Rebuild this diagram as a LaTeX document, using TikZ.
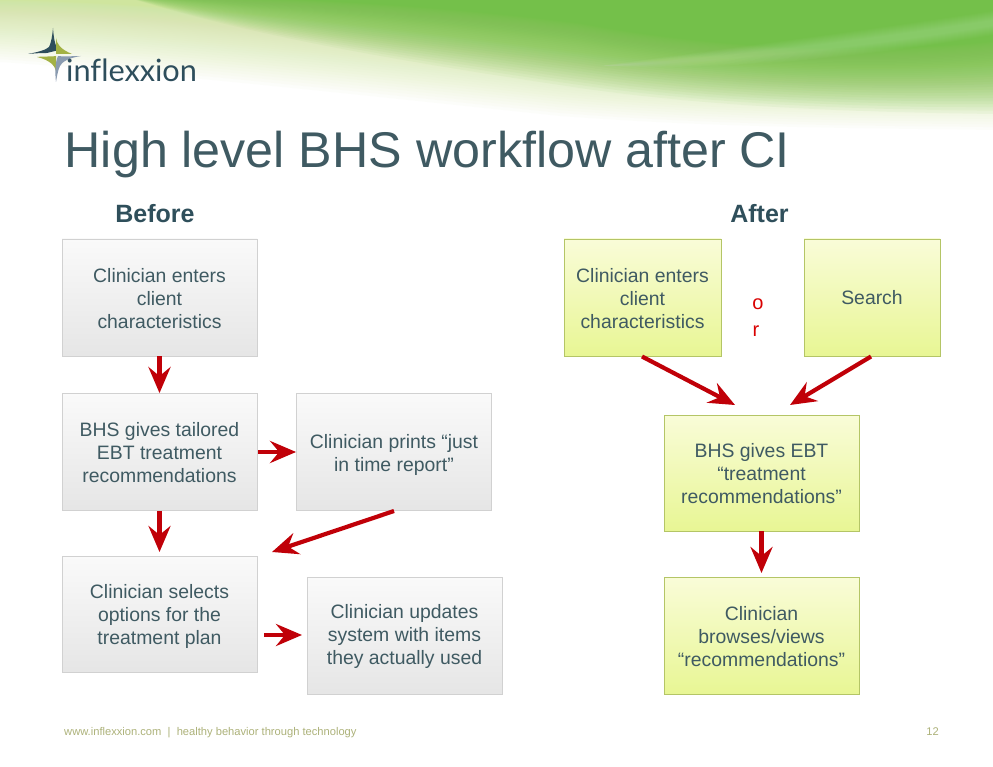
\documentclass[tikz,border=0pt]{standalone}
\usepackage{fontspec}
\setmainfont{Liberation Sans}
\newfontfamily\logofont{Lato}
\usetikzlibrary{arrows.meta}
\definecolor{inktext}{HTML}{3F5A62}
\definecolor{headtext}{HTML}{2F4F5B}
\definecolor{arrowred}{HTML}{C00008}
\definecolor{swgreen}{HTML}{74C04A}
\definecolor{swpale}{HTML}{CFE59A}
\definecolor{footcol}{HTML}{ADB27A}
\definecolor{logodark}{HTML}{2E4E5C}
\definecolor{logoolive}{HTML}{A3B244}
\definecolor{logogrey}{HTML}{8A9BB0}
\definecolor{limetop}{HTML}{F9FCD8}
\definecolor{limebot}{HTML}{E8F694}
\definecolor{limeedge}{HTML}{B4C566}
\newcommand{\boxlines}[3]{\raisebox{-#1}[\height][\depth]{\parbox{#2}{\centering #3}}}
\tikzset{
  flowbox/.style={rectangle,draw,line width=0.8pt,inner sep=0pt,align=center,text=inktext,
    font=\fontsize{19.4}{23}\selectfont},
  greybox/.style={flowbox,draw=black!18,top color=black!2,bottom color=black!10},
  limebox/.style={flowbox,draw=limeedge,top color=limetop,bottom color=limebot},
  flowarrow/.style={draw=arrowred,line width=4.2pt,-{Stealth[length=26pt,width=22pt,inset=9pt]}},
  headlabel/.style={font=\fontsize{25}{28}\selectfont\bfseries,text=headtext,inner sep=0pt},
  orlabel/.style={font=\fontsize{20}{23}\selectfont,text=red!85!black,inner sep=0pt},
  footlabel/.style={font=\fontsize{11.15}{13}\selectfont,text=footcol,inner sep=0pt}
}
\begin{document}
\begin{tikzpicture}[x=1pt,y=-1pt]
\useasboundingbox (0,0) rectangle (993,767);
\fill[white] (0,0) rectangle (993,767);
\begin{scope}
\clip (0,0) rectangle (993,767);
% pale wide band of the swoosh: layer spacing grows, so the edge dies away softly
\foreach \i [evaluate=\i as \o using (\i/44)*(\i/44)] in {0,...,44}{
  \fill[swpale,opacity=0.045] (0,-5) -- (0,{0+62*\o})
     .. controls (150,{2+70*\o}) and (350,{22+72*\o}) .. (560,{50+66*\o})
     .. controls (720,{70+58*\o}) and (860,{72+56*\o}) .. (993,{66+64*\o}) -- (993,-5) -- cycle;
}
% saturated green
\foreach \i [evaluate=\i as \o using (\i/44)*(\i/44)] in {0,...,44}{
  \fill[swgreen,opacity=0.06] (120,-5)
     .. controls (260,{-5+44*\o}) and (420,{2+62*\o}) .. (580,{22+66*\o})
     .. controls (720,{48+60*\o}) and (860,{54+58*\o}) .. (993,{40+74*\o}) -- (993,-5) -- cycle;
}
% light streaks, tapering to a point at the left
\foreach \i in {0,...,9}{
  \fill[white,opacity=0.02] (600,66) .. controls (720,{58-\i}) and (850,{42-\i}) .. (993,{20-\i})
     -- (993,{26+\i}) .. controls (850,{50+\i}) and (720,{62+\i}) .. (600,66) -- cycle;
}
\end{scope}
% logo
\fill[logodark] (53,28) .. controls (54,42) and (56,48) .. (59,50) -- (47,53)
   .. controls (45,53) and (38,53) .. (28,54) .. controls (38,52) and (46,50) .. (49,47) .. controls (51,43) and (52,38) .. (53,28) -- cycle;
\fill[logoolive] (56,38) .. controls (57,44) and (60,49) .. (72,54) -- (56,54) -- cycle;
\fill[logoolive] (37,57) .. controls (46,56) and (51,57) .. (56,56) -- (56,71) .. controls (55,66) and (50,60) .. (37,57) -- cycle;
\fill[logogrey] (58,56) .. controls (64,57) and (72,56) .. (81,56) .. controls (68,58) and (62,62) .. (60,66) .. controls (58,70) and (57,76) .. (56,82) .. controls (55,74) and (55,62) .. (58,56) -- cycle;
\node[inner sep=0pt,anchor=base west,text=logodark,font=\fontsize{30.7}{31}\selectfont\logofont] (logo) at (66,82) {inf\kern0pt lexxion};
% title
\node[inner sep=0pt,anchor=base west,text=inktext,font=\fontsize{50.2}{54}\selectfont] (title) at (64.5,168) {High level BHS workflow after CI};
\node[headlabel] (before) at (155,213.5) {Before};
\node[headlabel] (after) at (759.5,213.5) {After};
% before boxes
\node[greybox,minimum width=195pt,minimum height=117pt] (b1) at (159.5,297.5) {\boxlines{1pt}{190pt}{Clinician enters\\client\\characteristics}};
\node[greybox,minimum width=195pt,minimum height=117pt] (b2) at (159.5,452) {\boxlines{1pt}{190pt}{BHS gives tailored\\EBT treatment\\recommendations}};
\node[greybox,minimum width=195pt,minimum height=117pt] (b3) at (394,452) {\boxlines{2.5pt}{190pt}{Clinician prints “just\\in time report”}};
\node[greybox,minimum width=195pt,minimum height=116pt] (b4) at (159.5,614) {\boxlines{2pt}{190pt}{Clinician selects\\options for the\\treatment plan}};
\node[greybox,minimum width=195pt,minimum height=117pt] (b5) at (404.5,635.5) {\boxlines{1pt}{190pt}{Clinician updates\\system with items\\they actually used}};
% after boxes
\node[limebox,minimum width=157pt,minimum height=117pt] (a1) at (642.5,297.5) {\boxlines{1pt}{152pt}{Clinician enters\\client\\characteristics}};
\node[limebox,minimum width=136pt,minimum height=117pt] (a2) at (872,297.5) {Search};
\node[limebox,minimum width=195pt,minimum height=116pt] (a3) at (761.5,473) {\boxlines{1pt}{190pt}{BHS gives EBT\\“treatment\\recommendations”}};
\node[limebox,minimum width=195pt,minimum height=117pt] (a4) at (761.5,635.5) {\boxlines{1pt}{190pt}{Clinician\\browses/views\\“recommendations”}};
\node[orlabel] (or1) at (758,304) {o};
\node[orlabel] (or2) at (756,331) {r};
% footer
\node[footlabel,anchor=base west] (foot) at (64,735) {www.inflexxion.com\ \ |\ \ healthy behavior through technology};
\node[footlabel,anchor=base east] (page) at (939,735) {12};
% free ends
\coordinate (e3) at (272,552);
\coordinate (e3s) at (394,511);
\coordinate (e4s) at (264,635);
\coordinate (e4) at (302,635);
\coordinate (e2) at (159.5,552);
\coordinate (ea1) at (735,405);
\coordinate (ea2) at (790,405);
\coordinate (sa1) at (642,356.5);
\coordinate (sa2) at (871,356.5);
\coordinate (ea3) at (761.5,573);
\coordinate (sb2) at (258,452);
% connectors
\draw[flowarrow] (b1.south) -- (b2.north);
\draw[flowarrow] (b2.south) -- (e2);
\draw[flowarrow] (sb2) -- (b3.west);
\draw[flowarrow] (e3s) -- (e3);
\draw[flowarrow] (e4s) -- (e4);
\draw[flowarrow] (sa1) -- (ea1);
\draw[flowarrow] (sa2) -- (ea2);
\draw[flowarrow] (a3.south) -- (ea3);
\end{tikzpicture}
\end{document}
